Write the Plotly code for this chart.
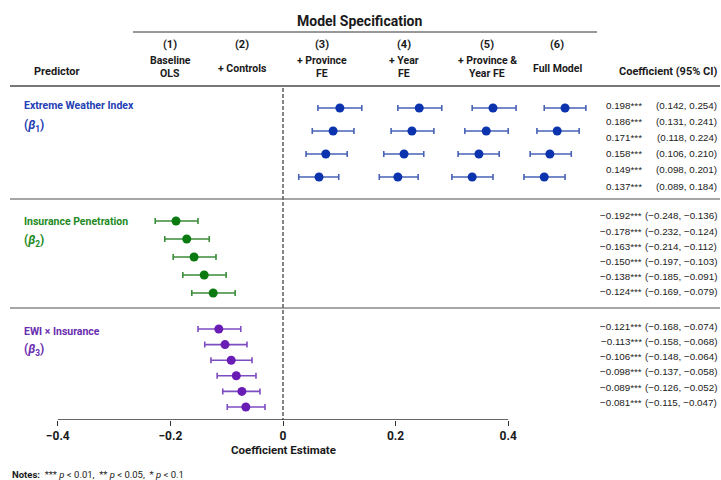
import plotly.graph_objects as go

# ---------------- data ----------------
models = ["(1)", "(2)", "(3)", "(4)", "(5)", "(6)"]
model_line2 = ["Baseline", "", "+ Province", "+ Year", "+ Province &", ""]
model_line3 = ["OLS", "+ Controls", "FE", "FE", "Year FE", "Full Model"]

predictors = ["Extreme Weather Index", "Insurance Penetration", "EWI × Insurance"]
pred_symbols = ["(<i>β</i><sub>1</sub>)", "(<i>β</i><sub>2</sub>)", "(<i>β</i><sub>3</sub>)"]

# plotted estimates / interval ends as drawn (blue: 4 rows x 4 groups)
ewi_est = [[0.101, 0.242, 0.373, 0.501],
           [0.089, 0.229, 0.361, 0.487],
           [0.076, 0.215, 0.348, 0.474],
           [0.064, 0.204, 0.336, 0.464]]
ewi_lo = [[0.062, 0.204, 0.336, 0.464],
          [0.052, 0.192, 0.323, 0.451],
          [0.041, 0.179, 0.311, 0.439],
          [0.028, 0.171, 0.300, 0.428]]
ewi_hi = [[0.140, 0.282, 0.414, 0.538],
          [0.126, 0.268, 0.400, 0.526],
          [0.114, 0.250, 0.384, 0.512],
          [0.099, 0.240, 0.373, 0.501]]

ins_est = [-0.190, -0.171, -0.158, -0.140, -0.124]
ins_lo = [-0.227, -0.210, -0.195, -0.178, -0.162]
ins_hi = [-0.151, -0.131, -0.119, -0.101, -0.085]

int_est = [-0.114, -0.103, -0.092, -0.083, -0.073, -0.066]
int_lo = [-0.151, -0.139, -0.128, -0.117, -0.107, -0.099]
int_hi = [-0.075, -0.064, -0.055, -0.048, -0.041, -0.032]

# table of coefficients (right column)
ewi_coef = ["0.198***", "0.186***", "0.171***", "0.158***", "0.149***", "0.137***"]
ewi_ci = ["(0.142, 0.254)", "(0.131, 0.241)", "(0.118, 0.224)", "(0.106, 0.210)", "(0.098, 0.201)", "(0.089, 0.184)"]
ins_coef = ["−0.192***", "−0.178***", "−0.163***", "−0.150***", "−0.138***", "−0.124***"]
ins_ci = ["(−0.248, −0.136)", "(−0.232, −0.124)", "(−0.214, −0.112)", "(−0.197, −0.103)", "(−0.185, −0.091)", "(−0.169, −0.079)"]
int_coef = ["−0.121***", "−0.113***", "−0.106***", "−0.098***", "−0.089***", "−0.081***"]
int_ci = ["(−0.168, −0.074)", "(−0.158, −0.068)", "(−0.148, −0.064)", "(−0.137, −0.058)", "(−0.126, −0.052)", "(−0.115, −0.047)"]

tick_vals = [-0.4, -0.2, 0, 0.2, 0.4]
tick_text = ["−0.4", "−0.2", "0", "0.2", "0.4"]

# ---------------- layout constants ----------------
W, H = 721, 480
PH = 420           # plot area height (px); y axis in px units
X0PX = 283         # pixel of zero
SCALE = 563.0      # px per unit
HEAD = "Roboto, Liberation Sans, sans-serif"
NUM = "Liberation Sans, Arial, sans-serif"

BLUE, BLUE_BAR, BLUE_TXT = "#0a33ad", "#4862b5", "#2440b5"
GREEN, GREEN_BAR, GREEN_TXT = "#0b7a10", "#3a8d3a", "#238a23"
PURP, PURP_BAR, PURP_TXT = "#6a1db5", "#7d4dc2", "#6a2db0"

fig = go.Figure()


def add_group(xs, los, his, ys, col, barcol):
    fig.add_trace(go.Scatter(
        x=xs, y=ys, mode="markers",
        marker=dict(size=9, color=col),
        error_x=dict(type="data", symmetric=False,
                     array=[h - e for h, e in zip(his, xs)],
                     arrayminus=[e - l for e, l in zip(xs, los)],
                     color=barcol, thickness=1.6, width=3),
        showlegend=False, hoverinfo="x"))


# blue group
bx, bl, bh, by = [], [], [], []
for i, row in enumerate(ewi_est):
    for j, v in enumerate(row):
        bx.append(v); bl.append(ewi_lo[i][j]); bh.append(ewi_hi[i][j])
        by.append(108 + 23 * i)
add_group(bx, bl, bh, by, BLUE, BLUE_BAR)
add_group(ins_est, ins_lo, ins_hi, [221 + 18 * i for i in range(len(ins_est))], GREEN, GREEN_BAR)
add_group(int_est, int_lo, int_hi, [329 + 15.6 * i for i in range(len(int_est))], PURP, PURP_BAR)


def ann(text, px, py, size, color="#1a1a1a", bold=False, xanchor="center", family=HEAD):
    fig.add_annotation(x=px / W, y=(PH - py) / PH, xref="paper", yref="paper",
                       text=text, showarrow=False, xanchor=xanchor, yanchor="middle",
                       font=dict(family=family, size=size, color=color,
                                 weight="bold" if bold else "normal"))


def hline(py, x0, x1, color, width, dash="solid"):
    fig.add_shape(type="line", xref="paper", yref="paper",
                  x0=x0 / W, x1=x1 / W, y0=(PH - py) / PH, y1=(PH - py) / PH,
                  line=dict(color=color, width=width, dash=dash))


# header
ann("Model Specification", 360, 21, 14, bold=True)
hline(32, 133, 597, "#333333", 1)
col_px = [170, 242, 322, 404, 487, 557]
for k, cx in enumerate(col_px):
    ann(models[k], cx, 45, 11, bold=True)
    if model_line2[k]:
        ann(model_line2[k], cx, 60, 10.5, bold=True)
        ann(model_line3[k], cx, 73, 10.5, bold=True)
    else:
        ann(model_line3[k], cx, 69, 10.5, bold=True)
ann("Predictor", 32, 72, 11, bold=True, xanchor="left")
ann("Coefficient (95% CI)", 720, 72, 11, bold=True, xanchor="right")
hline(86, 10, 720, "#777777", 2)
hline(199, 10, 720, "#888888", 1.6)
hline(308, 10, 720, "#888888", 1.6)

# predictor labels
lab_y = [(105, 126), (221, 241), (331, 350)]
lab_col = [BLUE_TXT, GREEN_TXT, PURP_TXT]
for k in range(3):
    ann(predictors[k], 22, lab_y[k][0], 10.5, color=lab_col[k], bold=True, xanchor="left")
    ann(pred_symbols[k], 22, lab_y[k][1], 12, color=lab_col[k], bold=True, xanchor="left")

# coefficient table
tables = [(ewi_coef, ewi_ci, 105, 16.2), (ins_coef, ins_ci, 216, 15.1), (int_coef, int_ci, 326, 15.3)]
for coefs, cis, y0, step in tables:
    for i, (c, ci) in enumerate(zip(coefs, cis)):
        ann(c, 644, y0 + step * i, 9.8, color="#222222", xanchor="right", family=NUM)
        ann(ci, 719, y0 + step * i, 9.8, color="#222222", xanchor="right", family=NUM)

# zero reference line and axis line
fig.add_shape(type="line", xref="x", yref="y", x0=0, x1=0, y0=88, y1=PH,
              line=dict(color="#666666", width=1.6, dash="4px,2px"))
fig.add_shape(type="line", xref="x", yref="y", x0=tick_vals[0], x1=tick_vals[-1], y0=PH, y1=PH,
              line=dict(color="#333333", width=1.6))

ann("Coefficient Estimate", X0PX, 450, 11.5, bold=True)
ann("<b>Notes:</b>  *** <i>p</i> &lt; 0.01,  ** <i>p</i> &lt; 0.05,  * <i>p</i> &lt; 0.1",
    10, 474, 9.5, xanchor="left")

fig.update_layout(
    width=W, height=H,
    margin=dict(l=0, r=0, t=0, b=H - PH, pad=0),
    plot_bgcolor="white", paper_bgcolor="white",
    xaxis=dict(range=[-X0PX / SCALE, (W - X0PX) / SCALE], tickvals=tick_vals, ticktext=tick_text,
               ticks="outside", ticklen=5, tickwidth=1.3, tickcolor="#333333",
               showgrid=False, zeroline=False, showline=False,
               tickfont=dict(family=HEAD, size=12, color="#1a1a1a", weight="bold")),
    yaxis=dict(range=[PH, 0], visible=False, showgrid=False, zeroline=False),
)

fig.write_html("out.html", config={"displayModeBar": False},
               post_script="document.body.style.margin='0px';")
